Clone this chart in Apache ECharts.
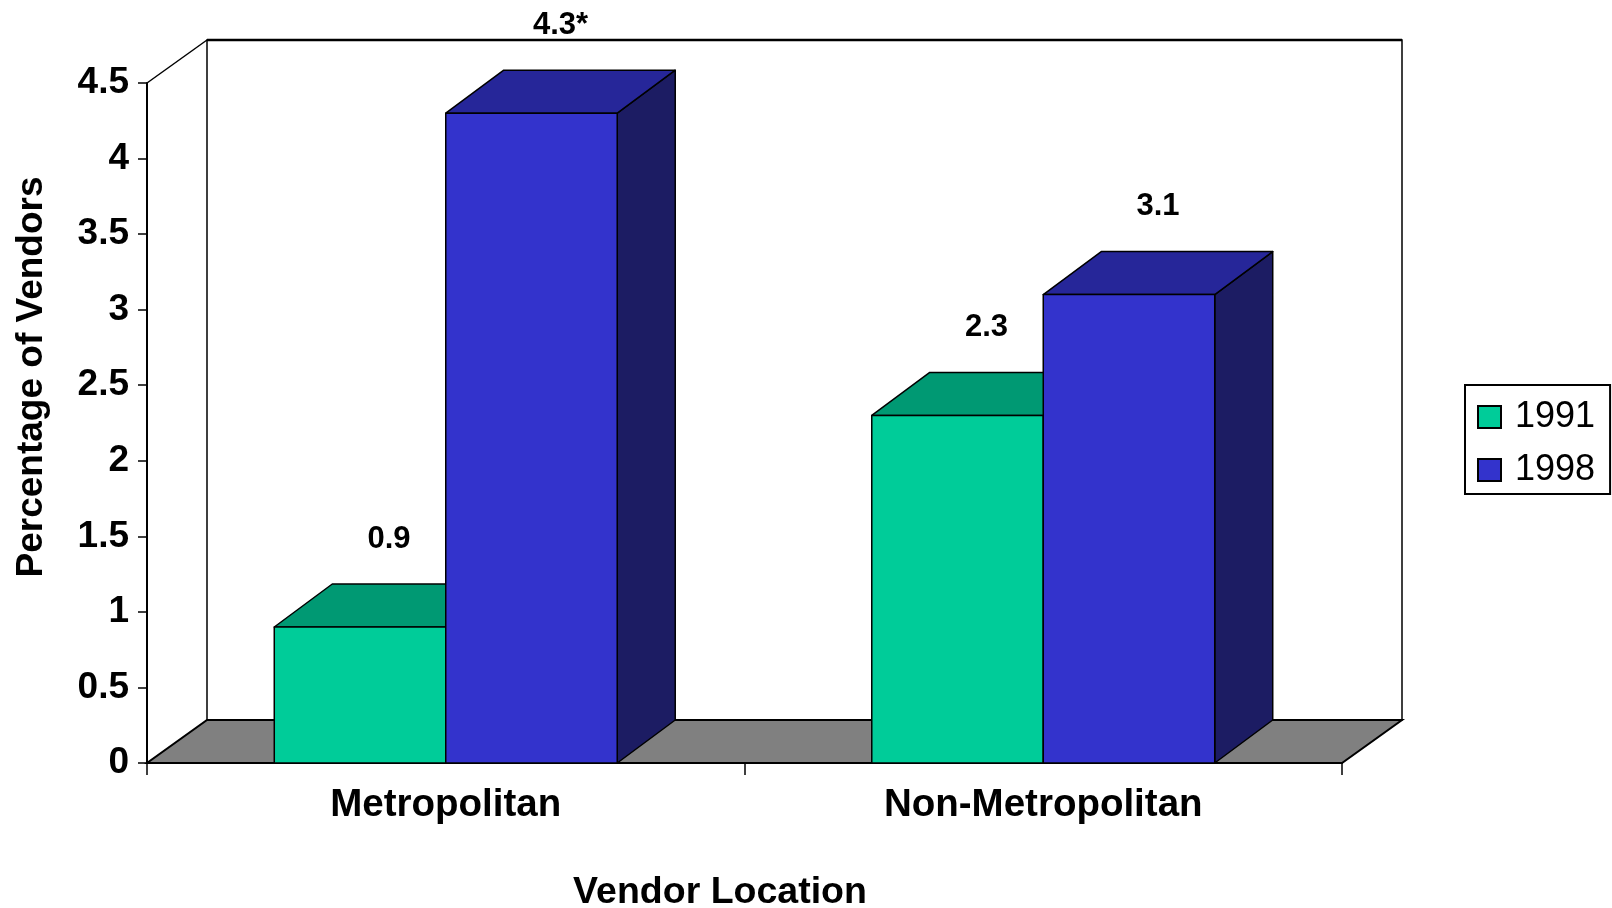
<!DOCTYPE html>
<html>
<head>
<meta charset="utf-8">
<title>Percentage of Vendors by Vendor Location</title>
<script src="https://cdn.jsdelivr.net/npm/echarts@6/dist/echarts.min.js"></script>
<style>
  html, body { margin: 0; padding: 0; background: #ffffff; }
  #chart { width: 1612px; height: 908px; }
</style>
</head>
<body>
<div id="chart"></div>
<script>
// ---- data ----
const categories = ['Metropolitan', 'Non-Metropolitan'];
const seriesNames = ['1991', '1998'];
const values1991 = [0.9, 2.3];
const values1998 = [4.3, 3.1];
const labelNotes1991 = ['', ''];
const labelNotes1998 = ['*', ''];
const yMin = 0, yMax = 4.5, yStep = 0.5;

// ---- look ----
const FONT = "'Liberation Sans', Arial, Helvetica, sans-serif";
const WALL_DX = 60, WALL_DY = -43;   // depth offset of the back wall / floor
const BAR_DX = 58, BAR_DY = -43;     // depth offset of each 3-D bar
const BAR_RATIO = 0.287;             // bar width as a share of the category band
const faces = {
  '1991': { front: '#00CC99', top: '#009973', side: '#006B50' },
  '1998': { front: '#3333CC', top: '#262699', side: '#1C1C63' }
};

// back wall, side edge and grey floor, sized from the cartesian grid
function renderBox(params, api) {
  const cs = params.coordSys;
  const x0 = cs.x, y0 = cs.y, x1 = cs.x + cs.width, y1 = cs.y + cs.height;
  const line = { stroke: '#000', lineWidth: 1.5, fill: null };
  return {
    type: 'group',
    children: [
      { type: 'rect', shape: { x: x0 + WALL_DX, y: y0 + WALL_DY, width: cs.width, height: cs.height },
        style: { fill: '#fff', stroke: '#000', lineWidth: 1.5 } },
      { type: 'line', shape: { x1: x0 + WALL_DX, y1: y0 + WALL_DY, x2: x1 + WALL_DX, y2: y0 + WALL_DY },
        style: { stroke: '#000', lineWidth: 2.5 } },
      { type: 'line', shape: { x1: x0, y1: y0, x2: x0 + WALL_DX, y2: y0 + WALL_DY }, style: line },
      { type: 'polygon',
        shape: { points: [[x0, y1], [x1, y1], [x1 + WALL_DX, y1 + WALL_DY], [x0 + WALL_DX, y1 + WALL_DY]] },
        style: { fill: '#808080', stroke: '#000', lineWidth: 2 } }
    ]
  };
}

function makeBarRenderer(idx, name, notes) {
  const c = faces[name];
  return function (params, api) {
    const cat = api.value(0), val = api.value(1);
    const base = api.coord([cat, 0]);
    const top = api.coord([cat, val]);
    const bw = api.size([1, 0])[0] * BAR_RATIO;
    const x = base[0] - bw + idx * bw;
    const ty = top[1], by = base[1];
    const edge = { stroke: '#000', lineWidth: 1.5, lineJoin: 'round' };
    return {
      type: 'group',
      children: [
        { type: 'polygon',
          shape: { points: [[x + bw, ty], [x + bw, by], [x + bw + BAR_DX, by + BAR_DY], [x + bw + BAR_DX, ty + BAR_DY]] },
          style: Object.assign({ fill: c.side }, edge) },
        { type: 'polygon',
          shape: { points: [[x, ty], [x + bw, ty], [x + bw + BAR_DX, ty + BAR_DY], [x + BAR_DX, ty + BAR_DY]] },
          style: Object.assign({ fill: c.top }, edge) },
        { type: 'rect', shape: { x: x, y: ty, width: bw, height: by - ty },
          style: Object.assign({ fill: c.front }, edge) },
        { type: 'text',
          x: x + bw / 2 + BAR_DX / 2, y: ty + BAR_DY - 45,
          style: { text: String(val) + notes[params.dataIndex], fill: '#000',
                   font: 'bold 31px ' + FONT, align: 'center', verticalAlign: 'middle' } }
      ]
    };
  };
}

const chart = echarts.init(document.getElementById('chart'), null, { renderer: 'canvas' });

chart.setOption({
  animation: false,
  backgroundColor: '#ffffff',
  grid: { left: 147, right: 270, top: 83, bottom: 145, containLabel: false },
  xAxis: {
    type: 'category',
    data: categories,
    boundaryGap: true,
    axisLine: { show: true, lineStyle: { color: '#000', width: 2 } },
    axisTick: { show: true, length: 12, inside: false, alignWithLabel: false, lineStyle: { color: '#000', width: 1.5 } },
    axisLabel: { color: '#000', fontFamily: FONT, fontWeight: 'bold', fontSize: 38.5, margin: 23 },
    splitLine: { show: false }
  },
  yAxis: {
    type: 'value',
    min: yMin, max: yMax, interval: yStep,
    axisLine: { show: true, lineStyle: { color: '#000', width: 2 } },
    axisTick: { show: true, length: 9, inside: false, lineStyle: { color: '#000', width: 1.5 } },
    axisLabel: { color: '#000', fontFamily: FONT, fontWeight: 'bold', fontSize: 37, margin: 18 },
    splitLine: { show: false }
  },
  legend: {
    orient: 'vertical',
    left: 1465, top: 385,
    backgroundColor: '#fff',
    borderColor: '#000', borderWidth: 2, borderRadius: 0,
    padding: [14, 15, 6, 12],
    itemWidth: 23, itemHeight: 22, itemGap: 17,
    icon: 'rect',
    textStyle: { color: '#000', fontFamily: FONT, fontSize: 36, lineHeight: 36, padding: [0, 0, 0, 9] },
    data: seriesNames.map(n => ({ name: n, itemStyle: { color: faces[n].front, borderColor: '#000', borderWidth: 2 } }))
  },
  graphic: [
    { type: 'text', x: 32, y: 377, rotation: Math.PI / 2,
      style: { text: 'Percentage of Vendors', fill: '#000', font: 'bold 37px ' + FONT,
               align: 'center', verticalAlign: 'middle' } },
    { type: 'text', x: 720, y: 893,
      style: { text: 'Vendor Location', fill: '#000', font: 'bold 37.5px ' + FONT,
               align: 'center', verticalAlign: 'middle' } }
  ],
  series: [
    { name: 'box', type: 'custom', z: 1, silent: true,
      renderItem: renderBox, data: [[0, 0]], encode: { x: 0, y: 1 } },
    { name: seriesNames[0], type: 'custom', z: 2,
      itemStyle: { color: faces['1991'].front },
      renderItem: makeBarRenderer(0, '1991', labelNotes1991),
      data: values1991.map((v, i) => [i, v]), encode: { x: 0, y: 1 } },
    { name: seriesNames[1], type: 'custom', z: 3,
      itemStyle: { color: faces['1998'].front },
      renderItem: makeBarRenderer(1, '1998', labelNotes1998),
      data: values1998.map((v, i) => [i, v]), encode: { x: 0, y: 1 } }
  ]
});
</script>
</body>
</html>
